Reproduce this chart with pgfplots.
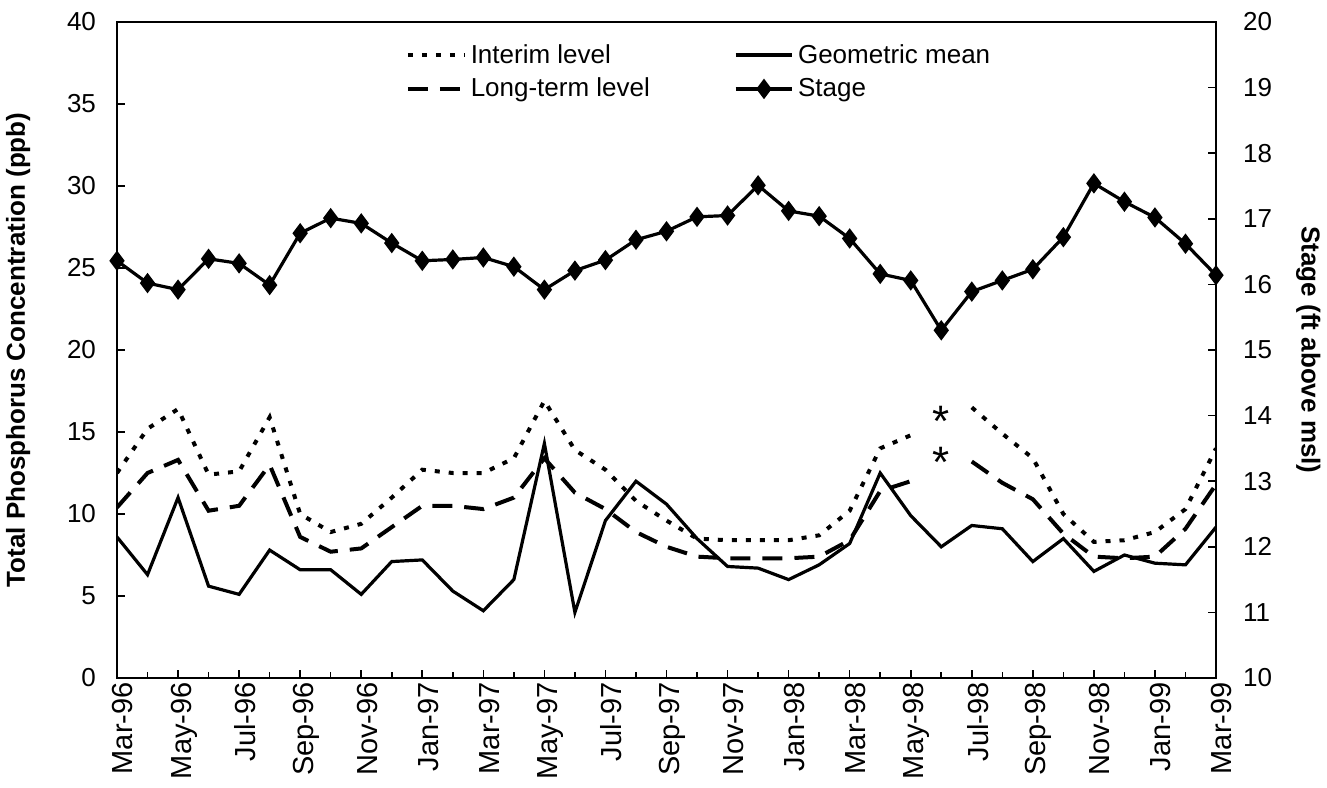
\documentclass[border=0pt]{standalone}
\usepackage{pgfplots}
\pgfplotsset{compat=1.18}
\usepackage{pgfplotstable}
\usepackage{fontspec}
\setmainfont{Liberation Sans}

% month index 0 = Mar-96 ... 36 = Mar-99
\pgfplotstableread{
idx interim longterm geomean stage
0  12.5 10.4 8.6  16.36
1  15.2 12.5 6.3  16.02
2  16.4 13.3 11.0 15.92
3  12.4 10.2 5.6  16.39
4  12.6 10.5 5.1  16.32
5  15.9 13.0 7.8  15.99
6  10.0 8.6  6.6  16.78
7  8.9  7.7  6.6  17.01
8  9.4  7.9  5.1  16.93
9  11.0 9.2  7.1  16.63
10 12.7 10.5 7.2  16.36
11 12.5 10.5 5.3  16.38
12 12.5 10.3 4.1  16.41
13 13.4 11.0 6.0  16.27
14 16.9 13.4 14.3 15.92
15 13.9 11.3 4.0  16.21
16 12.7 10.3 9.6  16.37
17 10.8 8.9  12.0 16.68
18 9.6  8.0  10.6 16.81
19 8.5  7.4  8.5  17.03
20 8.4  7.3  6.8  17.05
21 8.4  7.3  6.7  17.51
22 8.4  7.3  6.0  17.12
23 8.7  7.4  6.9  17.04
24 10.2 8.4  8.2  16.70
25 14.0 11.4 12.5 16.16
26 14.8 12.0 9.9  16.06
27 nan  nan  8.0  15.30
28 16.5 13.2 9.3  15.89
29 14.9 11.9 9.1  16.06
30 13.4 10.9 7.1  16.23
31 10.0 8.8  8.5  16.72
32 8.3  7.4  6.5  17.54
33 8.4  7.3  7.5  17.26
34 8.9  7.4  7.0  17.02
35 10.3 9.1  6.9  16.62
36 14.0 11.8 9.2  16.14
}\tp

\pgfplotsset{
  common/.style={
    scale only axis, width=549.5pt, height=328pt,
    xmin=0, xmax=36,
    tick align=inside, major tick length=4pt, minor tick length=3pt,
    /pgf/number format/assume math mode=true,
    unbounded coords=jump,
    tick style={black, line width=0.8pt},
  },
  interim/.style={black, line width=2pt, dash pattern=on 2.5pt off 4.5pt},
  longterm/.style={black, line width=2pt, dash pattern=on 10pt off 6pt},
  geo/.style={black, line width=1.6pt},
}

\begin{document}
\begin{tikzpicture}[font=\fontsize{13}{15}\selectfont]
\path[use as bounding box] (-58.5pt,-54.5pt) rectangle (605pt,339pt);
\begin{axis}[
  common,
  ymin=0, ymax=40, ytick={0,5,...,40},
  ytick pos=left, xtick pos=bottom,
  xtick={0,2,...,36},
  minor xtick={1,3,...,35},
  xticklabels={Mar-96,May-96,Jul-96,Sep-96,Nov-96,Jan-97,Mar-97,May-97,Jul-97,Sep-97,Nov-97,Jan-98,Mar-98,May-98,Jul-98,Sep-98,Nov-98,Jan-99,Mar-99},
  xticklabel style={rotate=90, anchor=east, inner sep=2pt, yshift=-3pt,
    font=\fontsize{14.5}{16}\selectfont},
  yticklabel style={xshift=-7pt},
  ylabel={\bfseries Total Phosphorus Concentration (ppb)},
  ylabel style={at={(axis description cs:-0.09,0.5)}, anchor=center},
  axis line style={line width=1pt},
]
\addplot[interim] table[x=idx, y=interim] {\tp};
\addplot[longterm] table[x=idx, y=longterm] {\tp};
\addplot[geo] table[x=idx, y=geomean] {\tp};
% asterisks mark the missing Jun-98 levels
\addplot[only marks, mark=text, text mark={\fontsize{22}{22}\selectfont\smash{*}}]
  coordinates {(27,14.7) (27,12.2)};
\end{axis}
\begin{axis}[
  common,
  ymin=10, ymax=20, ytick={10,11,...,20},
  axis y line*=right, axis x line=none,
  yticklabel style={xshift=10pt},
  ylabel={\bfseries Stage (ft above msl)},
  ylabel style={at={(axis description cs:1.084,0.5)}, anchor=center, rotate=180},
  axis line style={line width=1pt},
  legend columns=2,
  legend cell align=left,
  legend style={draw=none, fill=none, at={(0.257,0.979)}, anchor=north west,
    font=\fontsize{13}{15}\selectfont, row sep=2pt,
    /tikz/every even column/.append style={column sep=40pt}},
  legend image code/.code={\draw[mark repeat=2, mark phase=2, #1]
    plot coordinates {(0cm,0cm) (0.5cm,0cm) (1cm,0cm)};},
]
\addlegendimage{interim}
\addlegendentry{Interim level}
\addlegendimage{geo}
\addlegendentry{Geometric mean}
\addlegendimage{longterm}
\addlegendentry{Long-term level}
\addplot[black, line width=1.6pt, mark=diamond*, mark size=3.8pt]
  table[x=idx, y=stage] {\tp};
\addlegendentry{Stage}
\end{axis}
\end{tikzpicture}
\end{document}
